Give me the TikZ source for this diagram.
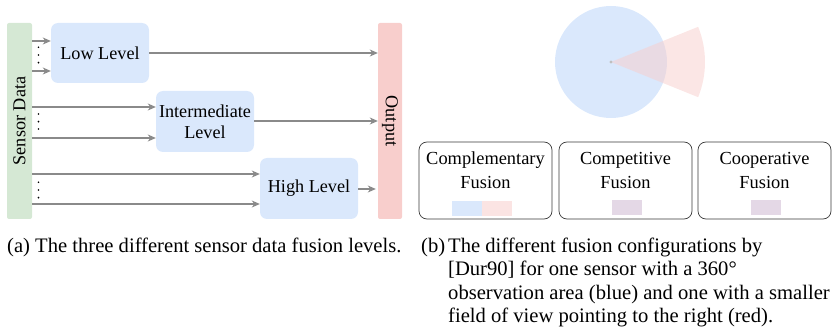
\documentclass[tikz,border=0pt]{standalone}
\usepackage{fontspec}
\setmainfont{Liberation Serif}
\usetikzlibrary{arrows.meta}
\definecolor{cblue}{HTML}{DAE8FC}
\definecolor{cred}{HTML}{F8CECC}
\definecolor{cgreen}{HTML}{D5E8D4}
\definecolor{cpurple}{HTML}{E4D8E6}
\definecolor{carrow}{HTML}{8A8A8A}
\definecolor{cborder}{HTML}{3A3A3A}
\begin{document}
\begin{tikzpicture}[x=1pt,y=-1pt,
  font=\fontsize{18.2}{21}\selectfont,
  levelbox/.style={rectangle, fill=cblue, rounded corners=7pt, minimum width=98pt, minimum height=61pt, inner sep=0pt, align=center},
  barbox/.style={rectangle, rounded corners=2pt, minimum width=25pt, minimum height=196pt, inner sep=0pt},
  arr/.style={draw=carrow, line width=1.1pt, -{Stealth[length=8pt,width=7pt,inset=2.5pt]}},
  fusionbox/.style={rectangle, draw=cborder, line width=0.7pt, rounded corners=8pt, minimum width=133pt, minimum height=77pt, inner sep=0pt},
  fusiontxt/.style={align=center, font=\fontsize{18.4}{24}\selectfont},
  captxt/.style={anchor=base west, inner sep=0pt, font=\fontsize{20.6}{23.5}\selectfont}
]
\useasboundingbox (0,0) rectangle (836,334);

% ---- (a) fusion levels ----
\node[barbox, fill=cgreen] (sensor) at (19.5,121) {};
\node[rotate=90] (sensortxt) at (sensor.center) {Sensor Data};
\node[barbox, fill=cred, minimum width=24pt] (output) at (390,121) {};
\node[rotate=-90] (outputtxt) at (output.center) {Output};

\node[levelbox, minimum height=60pt] (low) at (100,53) {Low Level};
\node[levelbox] (mid) at (205,121.5) {Intermediate\\Level};
\node[levelbox] (high) at (309,188.5) {High Level};

\draw[arr] (sensor.east |- 0,41) -- (low.west |- 0,41);
\draw[arr] (sensor.east |- 0,71) -- (low.west |- 0,71);
\draw[arr] (sensor.east |- 0,107) -- (mid.west |- 0,107);
\draw[arr] (sensor.east |- 0,138) -- (mid.west |- 0,138);
\draw[arr] (sensor.east |- 0,174) -- (high.west |- 0,174);
\draw[arr] (sensor.east |- 0,204) -- (high.west |- 0,204);

\foreach \yy in {47.3,55,62.7, 114,121.7,129, 182.3,190,197.6}
  \fill[black] (38.5,\yy) circle[radius=0.95];

\draw[arr] (low.east) -- (output.west |- low.east);
\draw[arr] (mid.east |- 0,121) -- (output.west |- 0,121);
\draw[arr] (high.east |- 0,189) -- ([xshift=-2pt]output.west |- 0,189);

% ---- (b) fusion configurations ----
\fill[cblue] (611,62) circle[radius=56];
\fill[cred, opacity=0.5] (611,62) -- ++(-22:94) arc[start angle=-22, end angle=22, radius=94] -- cycle;
\fill[black!25] (611,62) circle[radius=1.6];

\node[fusionbox] (comp) at (485.5,180.5) {};
\node[fusiontxt] (comptxt) at (485.5,170) {Complementary\\Fusion};
\fill[cblue] (452,201) rectangle (482,216);
\fill[cred!55] (482,201) rectangle (512,216);

\node[fusionbox] (compet) at (625.5,180.5) {};
\node[fusiontxt] (compettxt) at (625.5,170) {Competitive\\Fusion};
\fill[cpurple] (612,200) rectangle (642,215);

\node[fusionbox] (coop) at (764.5,180.5) {};
\node[fusiontxt] (cooptxt) at (764.5,170) {Cooperative\\Fusion};
\fill[cpurple] (751,200) rectangle (781,215);

% ---- captions ----
\node[captxt] (capa) at (7,252) {(a) The three different sensor data fusion levels.};
\node[captxt] (capb) at (421,252) {(b)};
\node[captxt] (capb1) at (448,252) {The different fusion configurations by};
\node[captxt] (capb2) at (448,275.5) {[Dur90] for one sensor with a 360°};
\node[captxt] (capb3) at (448,299) {observation area (blue) and one with a smaller};
\node[captxt] (capb4) at (448,322.5) {field of view pointing to the right (red).};
\end{tikzpicture}
\end{document}
